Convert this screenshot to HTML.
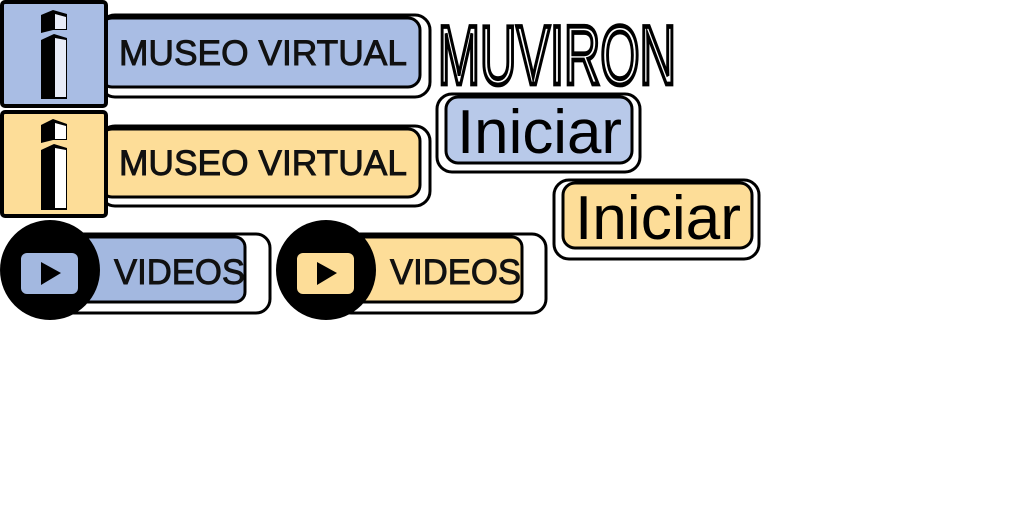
<!DOCTYPE html>
<html><head><meta charset="utf-8"><style>html,body{margin:0;padding:0;background:#fff}svg{display:block}</style></head>
<body>
<svg width="1024" height="512" viewBox="0 0 1024 512" xmlns="http://www.w3.org/2000/svg" font-family="Liberation Sans, sans-serif">
<!-- Museo blue -->
<rect x="100" y="15" width="330" height="82" rx="15" fill="#fff" stroke="#000" stroke-width="3"/>
<rect x="100" y="18" width="320" height="69" rx="12" fill="#a9bde4" stroke="#000" stroke-width="3"/>
<rect x="2" y="2" width="104" height="104" rx="3" fill="#a9bde4" stroke="#000" stroke-width="4"/>
<polygon points="41,15 53,10 67,14 67,30 53,30 41,33" fill="#000"/>
<polygon points="55,14 66,17 66,29 55,29" fill="#e8ecf8"/>
<polygon points="41,40 54,34 67,38 67,99 41,99" fill="#000"/>
<polygon points="55,38 66,40 66,97 55,97" fill="#e8ecf8"/>
<text x="119" y="65" font-size="35" stroke="#111" stroke-width="0.9" textLength="288" lengthAdjust="spacingAndGlyphs" fill="#111">MUSEO VIRTUAL</text>
<!-- Museo yellow -->
<rect x="100" y="126" width="330" height="80" rx="15" fill="#fff" stroke="#000" stroke-width="3"/>
<rect x="100" y="129" width="320" height="68" rx="12" fill="#fddd98" stroke="#000" stroke-width="3"/>
<rect x="2" y="112" width="104" height="104" rx="3" fill="#fddd98" stroke="#000" stroke-width="4"/>
<polygon points="41,125 53,119 67,124 67,140 53,140 41,143" fill="#000"/>
<polygon points="55,123 66,126 66,139 55,139" fill="#fff"/>
<polygon points="41,150 54,144 67,148 67,210 41,210" fill="#000"/>
<polygon points="55,148 66,150 66,208 55,208" fill="#fff"/>
<text x="119" y="175" font-size="35" stroke="#111" stroke-width="0.9" textLength="288" lengthAdjust="spacingAndGlyphs" fill="#111">MUSEO VIRTUAL</text>
<!-- MUVIRON -->
<text x="438" y="84" font-size="104" fill="#fff" stroke="#000" stroke-width="6" textLength="238" lengthAdjust="spacingAndGlyphs" transform="translate(0,84) scale(1,0.8) translate(0,-84)">MUVIRON</text>
<!-- Iniciar blue -->
<rect x="437" y="94" width="203" height="78" rx="15" fill="#fff" stroke="#000" stroke-width="3"/>
<rect x="446" y="97" width="186" height="66" rx="12" fill="#b8c9e9" stroke="#000" stroke-width="3"/>
<text x="457" y="153" font-size="62" textLength="165" lengthAdjust="spacingAndGlyphs" fill="#000">Iniciar</text>
<!-- Iniciar yellow -->
<rect x="554" y="180" width="205" height="79" rx="15" fill="#fff" stroke="#000" stroke-width="3"/>
<rect x="563" y="183" width="189" height="65" rx="12" fill="#fddd98" stroke="#000" stroke-width="3"/>
<text x="575" y="239" font-size="62" textLength="166" lengthAdjust="spacingAndGlyphs" fill="#000">Iniciar</text>
<!-- Videos blue -->
<rect x="60" y="234" width="210" height="79" rx="14" fill="#fff" stroke="#000" stroke-width="3"/>
<rect x="60" y="237" width="185" height="65" rx="10" fill="#a3b8e0" stroke="#000" stroke-width="3"/>
<circle cx="50" cy="270" r="50" fill="#000"/>
<rect x="21" y="253" width="57" height="41" rx="6" fill="#a3b8e0"/>
<polygon points="41,262 41,285 61,273" fill="#000"/>
<text x="114" y="284" font-size="35" stroke="#111" stroke-width="0.9" textLength="131" lengthAdjust="spacingAndGlyphs" fill="#111">VIDEOS</text>
<!-- Videos yellow -->
<rect x="337" y="234" width="209" height="79" rx="14" fill="#fff" stroke="#000" stroke-width="3"/>
<rect x="337" y="237" width="185" height="65" rx="10" fill="#fddd98" stroke="#000" stroke-width="3"/>
<circle cx="326" cy="270" r="50" fill="#000"/>
<rect x="297" y="253" width="57" height="41" rx="6" fill="#fddd98"/>
<polygon points="317,262 317,285 337,273" fill="#000"/>
<text x="390" y="284" font-size="35" stroke="#111" stroke-width="0.9" textLength="131" lengthAdjust="spacingAndGlyphs" fill="#111">VIDEOS</text>
</svg>
</body></html>
